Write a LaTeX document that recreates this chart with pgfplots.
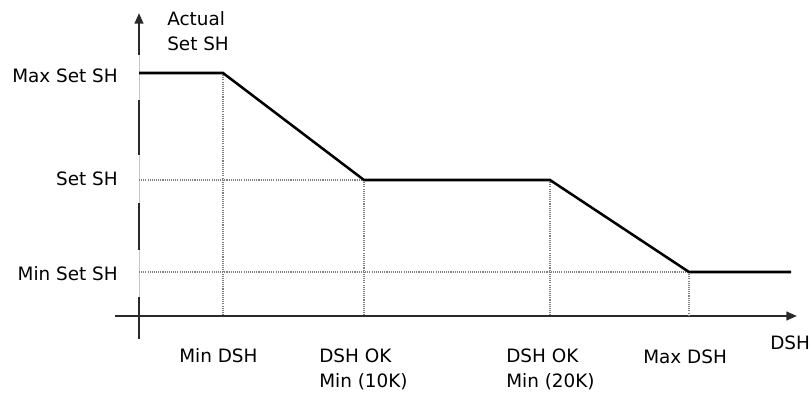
\documentclass[border=0pt]{standalone}
\usepackage{pgfplots}
\pgfplotsset{compat=1.18}
\usepackage{fontspec}
\setmainfont{DejaVu Sans}
\usetikzlibrary{arrows.meta}
\definecolor{axisgray}{HTML}{2A2A2A}
\definecolor{lightaxis}{HTML}{C8C8C8}
\definecolor{dotgray}{HTML}{808080}
\begin{document}
\fontsize{13.8}{19}\selectfont
\begin{tikzpicture}
\begin{axis}[
  scale only axis,
  width=607.5pt, height=294.75pt,
  xmin=0, xmax=810, ymin=0, ymax=393,
  y dir=reverse,
  hide axis,
  clip=false,
]
% bounding box
\path (axis cs:0,0) rectangle (axis cs:810,393);
% y axis: light full line, darker segments
\draw[lightaxis, line width=0.75pt] (axis cs:139,339) -- (axis cs:139,20);
\draw[axisgray, line width=1.6pt] (axis cs:139,55) -- (axis cs:139,20);
\draw[axisgray, line width=1.6pt] (axis cs:139,100) -- (axis cs:139,155);
\draw[axisgray, line width=1.6pt] (axis cs:139,203) -- (axis cs:139,250);
\draw[axisgray, line width=1.6pt] (axis cs:139,297) -- (axis cs:139,339);
\draw[axisgray, line width=1.6pt, -{Triangle[length=8pt,width=6.5pt]}] (axis cs:139,30) -- (axis cs:139,13);
% x axis
\draw[axisgray, line width=1.6pt, -{Triangle[length=8pt,width=6.5pt]}] (axis cs:115,316) -- (axis cs:797,316);
% dotted guides
\addplot[dotgray, line width=0.8pt, dash pattern=on 0.8pt off 0.8pt] coordinates {(139,180) (364,180)};
\addplot[dotgray, line width=0.8pt, dash pattern=on 0.8pt off 0.8pt] coordinates {(139,272) (689,272)};
\addplot[dotgray, line width=0.8pt, dash pattern=on 0.8pt off 0.8pt] coordinates {(223,73) (223,316)};
\addplot[dotgray, line width=0.8pt, dash pattern=on 0.8pt off 0.8pt] coordinates {(364,180) (364,316)};
\addplot[dotgray, line width=0.8pt, dash pattern=on 0.8pt off 0.8pt] coordinates {(550,180) (550,316)};
\addplot[dotgray, line width=0.8pt, dash pattern=on 0.8pt off 0.8pt] coordinates {(689,272) (689,316)};
% main curve
\addplot[black, line width=1.9pt, no marks, line join=miter] coordinates {
  (139,73) (223,73) (364,180) (550,180) (689,272) (791,272)
};
% y labels
\node[anchor=east, inner sep=0pt] at (axis cs:118,75.5) {Max Set SH};
\node[anchor=east, inner sep=0pt] at (axis cs:118,179) {Set SH};
\node[anchor=east, inner sep=0pt] at (axis cs:118,273.5) {Min Set SH};
\node[anchor=base west, inner sep=0pt] at (axis cs:167,25) {Actual};
\node[anchor=base west, inner sep=0pt] at (axis cs:167,50) {Set SH};
% x labels
\node[anchor=base west, inner sep=0pt] at (axis cs:179,362) {Min DSH};
\node[anchor=base west, inner sep=0pt] at (axis cs:319,362) {DSH OK};
\node[anchor=base west, inner sep=0pt] at (axis cs:319,387) {Min (10K)};
\node[anchor=base west, inner sep=0pt] at (axis cs:506,362) {DSH OK};
\node[anchor=base west, inner sep=0pt] at (axis cs:506,387) {Min (20K)};
\node[anchor=base west, inner sep=0pt] at (axis cs:643,363) {Max DSH};
\node[anchor=base west, inner sep=0pt] at (axis cs:770,349) {DSH};
\end{axis}
\end{tikzpicture}
\end{document}
